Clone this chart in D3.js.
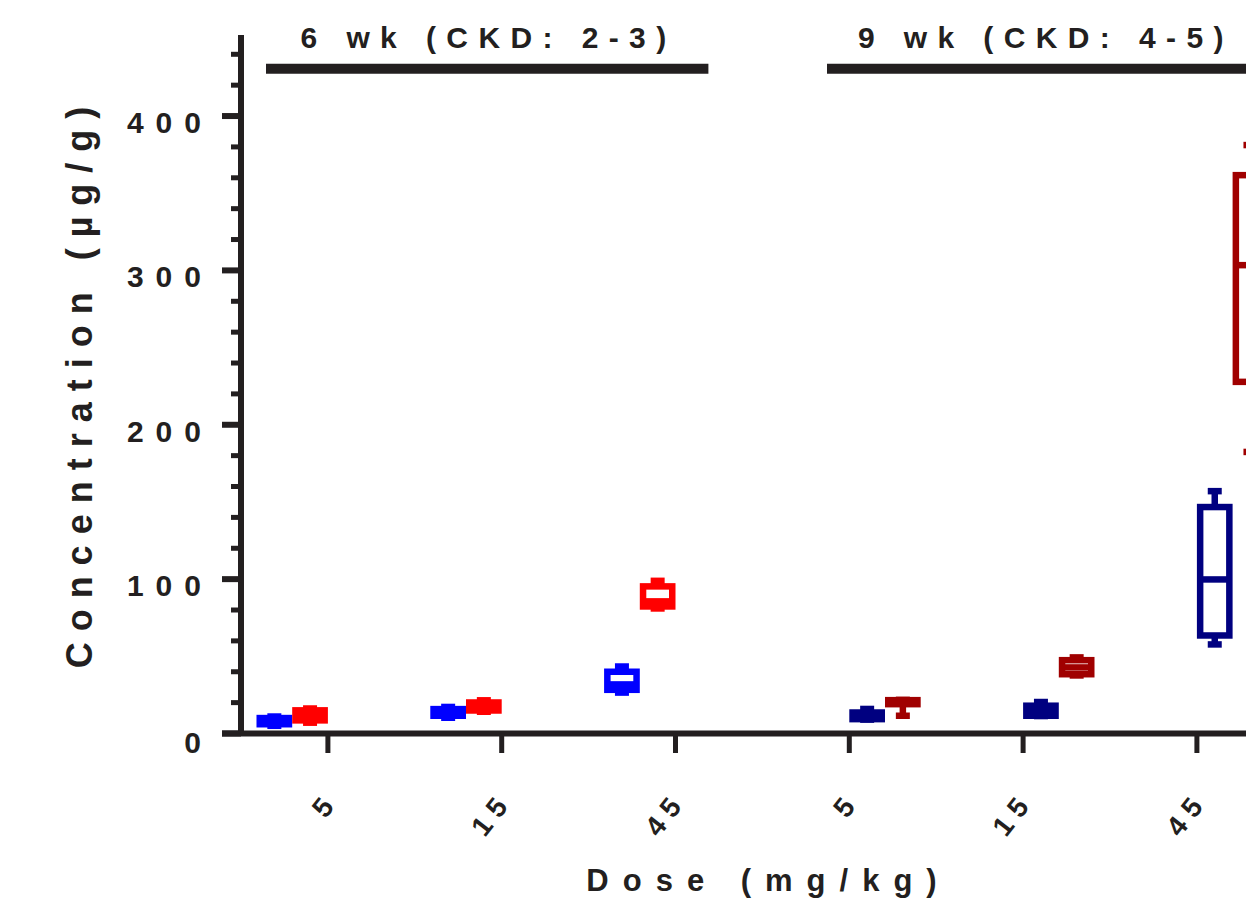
<!DOCTYPE html>
<html><head><meta charset="utf-8">
<script src="https://cdn.jsdelivr.net/npm/d3@7"></script>
<style>
body{margin:0;background:#fff;overflow:hidden}
svg{display:block}
text{font-family:"Liberation Sans",Arial,sans-serif;font-weight:bold;fill:#231f20}
</style>
</head><body>
<svg id="chart" width="1246" height="900"></svg>
<script>
// ---- data ----
const doseLabels = ["5","15","45","5","15","45"];
const categories = ["6wk-5","6wk-15","6wk-45","9wk-5","9wk-15","9wk-45"];
const groupTitles = ["6 wk (CKD: 2-3)","9 wk (CKD: 4-5)"];
const seriesNames = ["6wk-blue","6wk-red","9wk-navy","9wk-darkred"];
const seriesColors = ["#0000ff","#ff0000","#000080","#a00000"];
// box stats per category: [min, q1, median, q3, max]
const blue6 = [[5,6,8,10,11],[10.2,11.5,13.5,15.8,17.2],[26.5,28.3,31.8,40,43.4],null,null,null];
const red6 = [[7,8.5,12,15,16.2],[14.1,14.9,17.5,20.1,21.5],[81,82.3,85.6,95.3,98.9],null,null,null];
const navy9 = [null,null,null,[9,9.3,11,13.6,15.9],[11.3,11.5,15,18,20.4],[57.7,63.5,99.8,146.7,157]];
const darkred9 = [null,null,null,[11.5,19,20,21.6,21.8],[37.6,38.4,42.8,47.5,49.3],[182.4,227.8,303.4,361.7,381.2]];
const yMajorTicks = [0,100,200,300,400];
const yMinorTicks = [20,40,60,80,120,140,160,180,220,240,260,280,320,340,360,380,420,440];
const yTitle = "Concentration (µg/g)";
const xTitle = "Dose (mg/kg)";

const seriesData = [blue6, red6, navy9, darkred9];

// ---- layout ----
const svg = d3.select("#chart");
const axisColor = "#231f20";
const x0 = 241, yBase = 733.5, yTop = 35;
const x = d3.scaleBand().domain(categories).range([x0, x0 + 6*173.8]).paddingInner(0).paddingOuter(0);
const xs = d3.scaleBand().domain(seriesNames).range([0, x.bandwidth()]).paddingInner(0).paddingOuter(0.434);
const y = d3.scaleLinear().domain([0, 452.5]).range([yBase, yTop]);

const sw = 6.5;
const boxW = xs.bandwidth();
const capW = 14;

// boxes
seriesData.forEach((arr, si) => {
  const col = seriesColors[si];
  const g = svg.append("g");
  arr.forEach((st, ci) => {
    if (!st) return;
    const [mn, q1, md, q3, mx] = st;
    const cx = x(categories[ci]) + xs(seriesNames[si]) + boxW/2;
    g.append("line").attr("x1", cx).attr("x2", cx).attr("y1", y(q3)).attr("y2", y(mx))
      .attr("stroke", col).attr("stroke-width", sw);
    g.append("line").attr("x1", cx).attr("x2", cx).attr("y1", y(q1)).attr("y2", y(mn))
      .attr("stroke", col).attr("stroke-width", sw);
    g.append("line").attr("x1", cx - capW/2).attr("x2", cx + capW/2).attr("y1", y(mx)).attr("y2", y(mx))
      .attr("stroke", col).attr("stroke-width", sw);
    g.append("line").attr("x1", cx - capW/2).attr("x2", cx + capW/2).attr("y1", y(mn)).attr("y2", y(mn))
      .attr("stroke", col).attr("stroke-width", sw);
    g.append("rect").attr("x", cx - boxW/2 + sw/2).attr("width", boxW - sw)
      .attr("y", y(q3)).attr("height", Math.max(0, y(q1) - y(q3)))
      .attr("fill", "#fff").attr("stroke", col).attr("stroke-width", sw);
    g.append("line").attr("x1", cx - boxW/2 + sw/2).attr("x2", cx + boxW/2 - sw/2)
      .attr("y1", y(md)).attr("y2", y(md)).attr("stroke", col).attr("stroke-width", sw);
  });
});

// y axis
const ya = svg.append("g");
ya.append("line").attr("x1", x0).attr("x2", x0).attr("y1", yTop).attr("y2", yBase)
  .attr("stroke", axisColor).attr("stroke-width", 6);
yMajorTicks.forEach(v => {
  ya.append("line").attr("x1", 222).attr("x2", x0).attr("y1", y(v)).attr("y2", y(v))
    .attr("stroke", axisColor).attr("stroke-width", 6);
  ya.append("text").attr("x", 213).attr("y", y(v) + 17 + (v === 0 ? 2 : 0)).attr("text-anchor", "end")
    .attr("font-size", 30).attr("letter-spacing", 12).text(v);
});
yMinorTicks.forEach(v => {
  ya.append("line").attr("x1", 231).attr("x2", x0).attr("y1", y(v)).attr("y2", y(v))
    .attr("stroke", axisColor).attr("stroke-width", 5);
});

// x axis
const xa = svg.append("g");
xa.append("line").attr("x1", 222).attr("x2", 1300).attr("y1", yBase).attr("y2", yBase)
  .attr("stroke", axisColor).attr("stroke-width", 6);
categories.forEach((c, i) => {
  const cx = x(c) + x.bandwidth()/2;
  xa.append("line").attr("x1", cx).attr("x2", cx).attr("y1", yBase).attr("y2", 753)
    .attr("stroke", axisColor).attr("stroke-width", 5);
  xa.append("text").attr("text-anchor", "end").attr("font-size", 28).attr("letter-spacing", 8)
    .attr("transform", `translate(${cx + 12},801) rotate(-52)`).text(doseLabels[i]);
});

// titles
svg.append("text").attr("transform", `translate(92,382) rotate(-90)`)
  .attr("text-anchor", "middle").attr("font-size", 36).attr("letter-spacing", 11)
  .text(yTitle);
svg.append("text").attr("x", 761.5 + 7).attr("y", 891).attr("text-anchor", "middle")
  .attr("font-size", 31).attr("letter-spacing", 14).text(xTitle);

// group headers
const hdrs = [
  {t: groupTitles[0], a: x(categories[0]) + 25, b: x(categories[2]) + x.bandwidth() - 54, tc: 483.4},
  {t: groupTitles[1], a: x(categories[3]) + 64.6, b: x(categories[5]) + x.bandwidth() + 10, tc: 1040.7}
];
hdrs.forEach(h => {
  svg.append("line").attr("x1", h.a).attr("x2", h.b).attr("y1", 68.7).attr("y2", 68.7)
    .attr("stroke", axisColor).attr("stroke-width", 10);
  svg.append("text").attr("x", h.tc + 5.2).attr("y", 47.5).attr("text-anchor", "middle")
    .attr("font-size", 30).attr("letter-spacing", 10.4).text(h.t);
});
</script>
</body></html>
